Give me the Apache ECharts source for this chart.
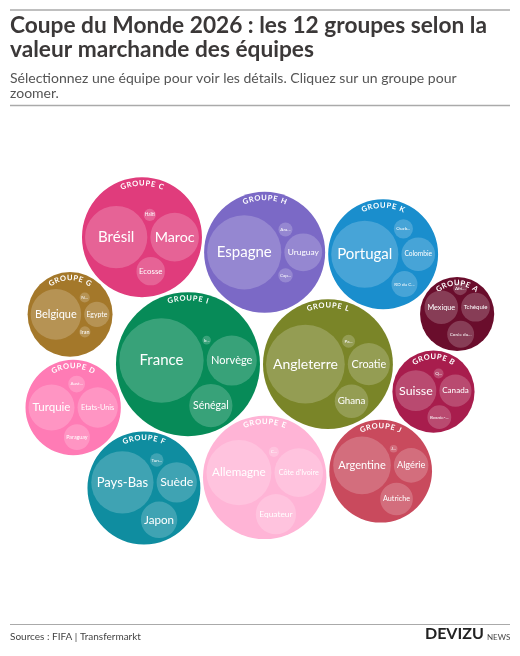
<!DOCTYPE html>
<html><head><meta charset="utf-8">
<script src="https://cdn.jsdelivr.net/npm/echarts@6/dist/echarts.min.js"></script>
<style>html,body{margin:0;padding:0;background:#fff}#chart{width:520px;height:656px}</style>
</head><body><div id="chart"></div>
<script>
// ---------------- DATA ----------------
const groupNames = ['GROUPE A','GROUPE B','GROUPE C','GROUPE D','GROUPE E','GROUPE F',
                    'GROUPE G','GROUPE H','GROUPE I','GROUPE J','GROUPE K','GROUPE L'];
const teamNames = [
  ['Mexique','Tchéquie','Corée du Sud','Afrique du Sud'],
  ['Suisse','Canada','Bosnie-Herzégovine','Qatar'],
  ['Brésil','Maroc','Ecosse','Haïti'],
  ['Turquie','Etats-Unis','Paraguay','Australie'],
  ['Allemagne',"Côte d'Ivoire",'Equateur','Curaçao'],
  ['Pays-Bas','Suède','Japon','Tunisie'],
  ['Belgique','Egypte','Iran','Nouvelle-Zélande'],
  ['Espagne','Uruguay','Cap-Vert','Arabie saoudite'],
  ['France','Norvège','Sénégal','Irak'],
  ['Argentine','Algérie','Autriche','Jordanie'],
  ['Portugal','Colombie','RD du Congo','Ouzbékistan'],
  ['Angleterre','Croatie','Ghana','Panama']
];
// market values (M€)
const teamValues = [
  [230,169,147,40],
  [340,210,115,20],
  [790,480,165,30],
  [430,330,137,57],
  [860,480,330,21],
  [790,330,270,37],
  [520,130,25,21],
  [1120,290,42,40],
  [1450,510,380,15],
  [675,243,217,12],
  [918,230,137,75],
  [1260,360,230,34]
];
const titleLines = ['Coupe du Monde 2026 : les 12 groupes selon la', 'valeur marchande des équipes'];
const subtitleLines = ['Sélectionnez une équipe pour voir les détails. Cliquez sur un groupe pour', 'zoomer.'];
const sourceText = 'Sources : FIFA | Transfermarkt';

// ---------------- STYLE ----------------
const groupColors = ['#6a0d2c','#a81d4d','#e03c7c','#ff7bb5','#ffb4d6','#0f8da0',
                     '#a4782a','#7b69c6','#078b58','#c94a5d','#1a8ecd','#7a8528'];
const FONT = 'Lato';
const PACK_SIZE = 486, CX = 260, CY = 362, PADDING = 3;

// ---------------- PACK (port of d3-hierarchy pack) ----------------
function place(b, a, c) {
  var dx = b.x - a.x, x, a2, dy = b.y - a.y, y, b2, d2 = dx * dx + dy * dy;
  if (d2) {
    a2 = a.r + c.r; a2 *= a2; b2 = b.r + c.r; b2 *= b2;
    if (a2 > b2) {
      x = (d2 + b2 - a2) / (2 * d2); y = Math.sqrt(Math.max(0, b2 / d2 - x * x));
      c.x = b.x - x * dx - y * dy; c.y = b.y - x * dy + y * dx;
    } else {
      x = (d2 + a2 - b2) / (2 * d2); y = Math.sqrt(Math.max(0, a2 / d2 - x * x));
      c.x = a.x + x * dx - y * dy; c.y = a.y + x * dy + y * dx;
    }
  } else { c.x = a.x + c.r; c.y = a.y; }
}
function intersects(a, b) { var dr = a.r + b.r - 1e-6, dx = b.x - a.x, dy = b.y - a.y; return dr > 0 && dr * dr > dx * dx + dy * dy; }
function score(node) { var a = node._, b = node.next._, ab = a.r + b.r, dx = (a.x * b.r + b.x * a.r) / ab, dy = (a.y * b.r + b.y * a.r) / ab; return dx * dx + dy * dy; }
function Node(c) { this._ = c; this.next = null; this.previous = null; }
function enclosesNot(a, b) { var dr = a.r - b.r, dx = b.x - a.x, dy = b.y - a.y; return dr < 0 || dr * dr < dx * dx + dy * dy; }
function enclosesWeak(a, b) { var dr = a.r - b.r + Math.max(a.r, b.r, 1) * 1e-9, dx = b.x - a.x, dy = b.y - a.y; return dr > 0 && dr * dr > dx * dx + dy * dy; }
function enclosesWeakAll(a, B) { for (var i = 0; i < B.length; ++i) if (!enclosesWeak(a, B[i])) return false; return true; }
function encloseBasis1(a) { return {x: a.x, y: a.y, r: a.r}; }
function encloseBasis2(a, b) {
  var x1 = a.x, y1 = a.y, r1 = a.r, x2 = b.x, y2 = b.y, r2 = b.r, x21 = x2 - x1, y21 = y2 - y1, r21 = r2 - r1, l = Math.sqrt(x21 * x21 + y21 * y21);
  return {x: (x1 + x2 + x21 / l * r21) / 2, y: (y1 + y2 + y21 / l * r21) / 2, r: (l + r1 + r2) / 2};
}
function encloseBasis3(a, b, c) {
  var x1 = a.x, y1 = a.y, r1 = a.r, x2 = b.x, y2 = b.y, r2 = b.r, x3 = c.x, y3 = c.y, r3 = c.r,
    a2 = x1 - x2, a3 = x1 - x3, b2 = y1 - y2, b3 = y1 - y3, c2 = r2 - r1, c3 = r3 - r1,
    d1 = x1 * x1 + y1 * y1 - r1 * r1, d2 = d1 - x2 * x2 - y2 * y2 + r2 * r2, d3 = d1 - x3 * x3 - y3 * y3 + r3 * r3,
    ab = a3 * b2 - a2 * b3, xa = (b2 * d3 - b3 * d2) / (ab * 2) - x1, xb = (b3 * c2 - b2 * c3) / ab,
    ya = (a3 * d2 - a2 * d3) / (ab * 2) - y1, yb = (a2 * c3 - a3 * c2) / ab,
    A = xb * xb + yb * yb - 1, B = 2 * (r1 + xa * xb + ya * yb), C = xa * xa + ya * ya - r1 * r1,
    r = -(Math.abs(A) > 1e-6 ? (B + Math.sqrt(B * B - 4 * A * C)) / (2 * A) : C / B);
  return {x: x1 + xa + xb * r, y: y1 + ya + yb * r, r: r};
}
function encloseBasis(B) { return B.length === 1 ? encloseBasis1(B[0]) : B.length === 2 ? encloseBasis2(B[0], B[1]) : encloseBasis3(B[0], B[1], B[2]); }
function extendBasis(B, p) {
  var i, j;
  if (enclosesWeakAll(p, B)) return [p];
  for (i = 0; i < B.length; ++i) if (enclosesNot(p, B[i]) && enclosesWeakAll(encloseBasis2(B[i], p), B)) return [B[i], p];
  for (i = 0; i < B.length - 1; ++i) for (j = i + 1; j < B.length; ++j)
    if (enclosesNot(encloseBasis2(B[i], B[j]), p) && enclosesNot(encloseBasis2(B[i], p), B[j]) && enclosesNot(encloseBasis2(B[j], p), B[i]) && enclosesWeakAll(encloseBasis3(B[i], B[j], p), B)) return [B[i], B[j], p];
  throw new Error('enclose');
}
function enclose(circles) {
  var i = 0, n = circles.length, B = [], p, e;
  while (i < n) { p = circles[i]; if (e && enclosesWeak(e, p)) ++i; else { e = encloseBasis(B = extendBasis(B, p)); i = 0; } }
  return e;
}
function packSiblings(circles) {
  var n = circles.length, a, b, c, aa, ca, i, j, k, sj, sk;
  if (!n) return 0;
  a = circles[0]; a.x = 0; a.y = 0; if (!(n > 1)) return a.r;
  b = circles[1]; a.x = -b.r; b.x = a.r; b.y = 0; if (!(n > 2)) return a.r + b.r;
  place(b, a, c = circles[2]);
  a = new Node(a); b = new Node(b); c = new Node(c);
  a.next = c.previous = b; b.next = a.previous = c; c.next = b.previous = a;
  pack: for (i = 3; i < n; ++i) {
    place(a._, b._, c = circles[i]); c = new Node(c);
    j = b.next; k = a.previous; sj = b._.r; sk = a._.r;
    do {
      if (sj <= sk) {
        if (intersects(j._, c._)) { b = j; a.next = b; b.previous = a; --i; continue pack; }
        sj += j._.r; j = j.next;
      } else {
        if (intersects(k._, c._)) { a = k; a.next = b; b.previous = a; --i; continue pack; }
        sk += k._.r; k = k.previous;
      }
    } while (j !== k.next);
    c.previous = a; c.next = b; a.next = b.previous = b = c;
    aa = score(a);
    while ((c = c.next) !== b) { if ((ca = score(c)) < aa) { a = c; aa = ca; } }
    b = a.next;
  }
  a = [b._]; c = b; while ((c = c.next) !== b) a.push(c._);
  c = enclose(a);
  for (i = 0; i < n; ++i) { a = circles[i]; a.x -= c.x; a.y -= c.y; }
  return c.r;
}

// build hierarchy
const groups = groupNames.map((g, gi) => {
  const children = teamNames[gi].map((t, ti) => ({name: t, value: teamValues[gi][ti], gi: gi, r: Math.sqrt(teamValues[gi][ti])}));
  children.sort((a, b) => b.value - a.value);
  return {name: g, gi: gi, value: children.reduce((s, c) => s + c.value, 0), children: children};
});
groups.sort((a, b) => b.value - a.value);
const root = {children: groups};
function packNode(node, k) {
  const p = PADDING * k;
  node.children.forEach(c => c.r += p);
  const e = packSiblings(node.children);
  node.children.forEach(c => c.r -= p);
  node.r = e + p;
}
groups.forEach(g => packNode(g, 0.5)); packNode(root, 0.5);
const k2 = root.r / PACK_SIZE;
groups.forEach(g => packNode(g, k2)); packNode(root, k2);
const K = PACK_SIZE / (2 * root.r);
root.x = PACK_SIZE / 2; root.y = PACK_SIZE / 2; root.r *= K;
groups.forEach(g => {
  g.r *= K; g.x = root.x + K * g.x; g.y = root.y + K * g.y;
  g.children.forEach(c => { c.r *= K; c.x = g.x + K * c.x; c.y = g.y + K * c.y; });
});

const nodes = [];
groups.forEach(g => nodes.push({kind: 'group', x: g.x, y: g.y, r: g.r, name: g.name, gi: g.gi}));
groups.forEach(g => g.children.forEach(c => nodes.push({kind: 'team', x: c.x, y: c.y, r: c.r, name: c.name, gi: c.gi})));

// ---------------- TEXT HELPERS ----------------
const mctx = document.createElement('canvas').getContext('2d');
function measure(text, font) { mctx.font = font; return mctx.measureText(text).width; }
function fitLabel(name, r) {
  const avail = 1.65 * r;
  const w1 = measure(name, '100px ' + FONT) / 100;
  let fs = Math.min(15, avail / w1);
  if (fs >= 4.6) return {text: name, fs: fs};
  fs = 4.6;
  for (let n = name.length - 1; n >= 1; n--) {
    const t = name.slice(0, n) + '...';
    if (measure(t, fs + 'px ' + FONT) <= avail) return {text: t, fs: fs};
  }
  return {text: '', fs: fs};
}
function arcChars(cx, cy, R, text) {
  const font = 'bold 7.5px ' + FONT, spacing = 0.9;
  const chars = Array.from(text);
  const widths = chars.map(ch => measure(ch, font));
  const total = widths.reduce((a, b) => a + b, 0) + spacing * (chars.length - 1);
  const rho = R - 6;
  let s = -total / 2;
  return chars.map((ch, i) => {
    const mid = s + widths[i] / 2;
    s += widths[i] + spacing;
    const th = mid / rho;
    return {type: 'text', x: cx + rho * Math.sin(th), y: cy - rho * Math.cos(th), rotation: -th,
      style: {text: ch, fill: '#ffffff', font: font, align: 'center', verticalAlign: 'middle'}};
  });
}

// ---------------- CHART ----------------
const chart = echarts.init(document.getElementById('chart'), null, {renderer: 'canvas'});
function fitTitleSize(text, weight, target) { return target / (measure(text, weight + ' 100px ' + FONT) / 100); }
const titleFs = Math.min(23, fitTitleSize(titleLines[0], 'bold', 477));
const subFs = Math.min(15, fitTitleSize(subtitleLines[0], 'normal', 447));

const graphics = [
  {type: 'line', shape: {x1: 10, y1: 10, x2: 510, y2: 10}, style: {stroke: '#aaaaaa', lineWidth: 1.5}},
  {type: 'text', x: 10, y: 37, style: {text: titleLines[0], font: 'bold ' + titleFs + 'px ' + FONT, fill: '#3b3838', verticalAlign: 'bottom'}},
  {type: 'text', x: 10, y: 61, style: {text: titleLines[1], font: 'bold ' + titleFs + 'px ' + FONT, fill: '#3b3838', verticalAlign: 'bottom'}},
  {type: 'text', x: 10, y: 85, style: {text: subtitleLines[0], font: subFs + 'px ' + FONT, fill: '#555555', verticalAlign: 'bottom'}},
  {type: 'text', x: 10, y: 100, style: {text: subtitleLines[1], font: subFs + 'px ' + FONT, fill: '#555555', verticalAlign: 'bottom'}},
  {type: 'line', shape: {x1: 10, y1: 105.5, x2: 510, y2: 105.5}, style: {stroke: '#aaaaaa', lineWidth: 1.5}},
  {type: 'line', shape: {x1: 10, y1: 624.5, x2: 510, y2: 624.5}, style: {stroke: '#aaaaaa', lineWidth: 1}},
  {type: 'text', x: 10, y: 637, style: {text: sourceText, font: '10px ' + FONT, fill: '#444444', verticalAlign: 'middle'}},
  {type: 'text', x: 425, y: 642, style: {text: 'DEVIZU', font: 'bold 16px ' + FONT, fill: '#222222', verticalAlign: 'bottom'}},
  {type: 'text', x: 487, y: 641, style: {text: 'NEWS', font: '8px ' + FONT, fill: '#444444', verticalAlign: 'bottom'}}
];

chart.setOption({
  animation: false,
  graphic: graphics,
  grid: {left: CX - PACK_SIZE / 2, top: CY - PACK_SIZE / 2, width: PACK_SIZE, height: PACK_SIZE},
  xAxis: {type: 'value', min: 0, max: PACK_SIZE, show: false},
  yAxis: {type: 'value', min: 0, max: PACK_SIZE, inverse: true, show: false},
  series: [{
    type: 'custom',
    coordinateSystem: 'cartesian2d',
    clip: false,
    silent: true,
    data: nodes.map(n => [n.x, n.y, n.r]),
    encode: {x: 0, y: 1},
    renderItem: function (params, api) {
      const n = nodes[params.dataIndex];
      const p = api.coord([api.value(0), api.value(1)]);
      const r = api.size([api.value(2), 0])[0];
      if (n.kind === 'group') {
        return {type: 'group', children: [
          {type: 'circle', shape: {cx: p[0], cy: p[1], r: r}, style: {fill: groupColors[n.gi]}}
        ].concat(arcChars(p[0], p[1], r, n.name))};
      }
      const lab = fitLabel(n.name, r);
      return {type: 'group', children: [
        {type: 'circle', shape: {cx: p[0], cy: p[1], r: r}, style: {fill: 'rgba(255,255,255,0.2)'}},
        {type: 'text', x: p[0], y: p[1], style: {text: lab.text, fill: '#ffffff', font: lab.fs.toFixed(2) + 'px ' + FONT, align: 'center', verticalAlign: 'middle'}}
      ]};
    }
  }]
});
</script></body></html>
